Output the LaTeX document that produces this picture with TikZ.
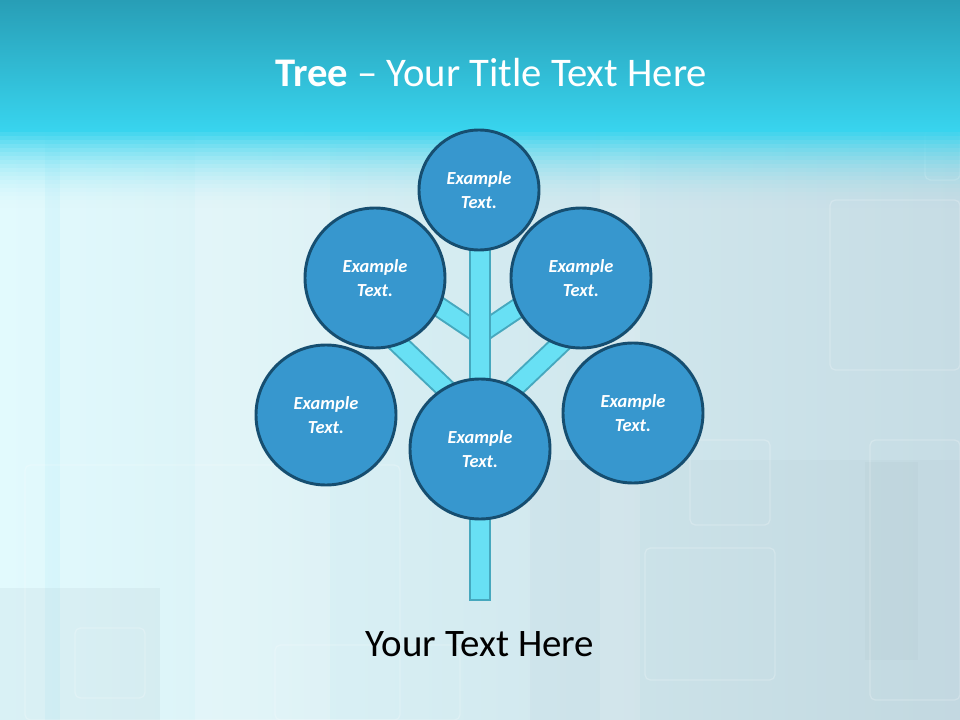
\documentclass[tikz,border=0pt]{standalone}
\usepackage{fontspec}
\setmainfont{Carlito}

\definecolor{bandtop}{RGB}{40,158,182}
\definecolor{bandbot}{RGB}{56,212,238}
\definecolor{paleleft}{RGB}{226,250,253}
\definecolor{paleright}{RGB}{198,220,228}
\definecolor{haze}{RGB}{160,180,190}
\definecolor{ballfill}{RGB}{55,151,206}
\definecolor{balledge}{RGB}{22,78,112}
\definecolor{limbfill}{RGB}{104,224,244}
\definecolor{limbedge}{RGB}{70,168,190}

\pgfdeclarelayer{back}
\pgfdeclarelayer{limbs}
\pgfsetlayers{back,limbs,main}

\tikzset{every picture/.style={line width=0.75pt}}

\begin{document}
\begin{tikzpicture}[x=0.75pt,y=0.75pt,yscale=-1,xscale=1,
  ball/.style={circle, draw=balledge, fill=ballfill, line width=2.2pt, minimum size=105pt, inner sep=0pt,
    text=white, align=center, font=\fontsize{13.8}{17.5}\selectfont\bfseries\itshape},
  topball/.style={ball, minimum size=90pt},
  limb/.style={draw=limbedge, line width=1.5pt, double=limbfill, double distance=12.75pt},
  ghost/.style={draw=white, draw opacity=0.22, line width=1pt, rounded corners=4pt}]
\useasboundingbox (0,0) rectangle (960,720);

\begin{pgfonlayer}{back}
%Background
\fill [left color=paleleft, right color=paleright] (0,128) rectangle (960,720);
%Streaks
\fill [white, opacity=0.18] (195,128) rectangle (330,720);
\fill [bandbot, opacity=0.06] (45,128) rectangle (60,720);
\fill [white, opacity=0.15] (600,128) rectangle (640,720);
%Ghost boxes
\fill [haze, opacity=0.12] (0,588) rectangle (160,720);
\fill [haze, opacity=0.08] (530,460) rectangle (960,720);
\fill [haze, opacity=0.1] (865,462) rectangle (918,660);
\draw [ghost] (25,465) rectangle (400,720);
\draw [ghost] (830,200) rectangle (960,370);
\draw [ghost] (925,130) rectangle (960,180);
\draw [ghost] (690,440) rectangle (770,525);
\draw [ghost] (645,548) rectangle (775,680);
\draw [ghost] (75,628) rectangle (145,698);
\draw [ghost] (275,645) rectangle (460,720);
\draw [ghost] (870,440) rectangle (960,700);
%Band
\foreach \i in {0,...,19}
  \fill [bandbot, opacity={(1-\i/20)*(1-\i/20)}] (0,128+4*\i) rectangle (960,132+4*\i);
\fill [top color=bandtop, bottom color=bandbot] (0,0) rectangle (960,130);
\end{pgfonlayer}

%Circles
\node [topball] (crown) at (479,190) {Example\\Text.};
\node [ball] (upleft) at (375,278) {Example\\Text.};
\node [ball] (upright) at (581,278) {Example\\Text.};
\node [ball] (lowleft) at (326,415) {Example\\Text.};
\node [ball] (lowright) at (633,413) {Example\\Text.};
\node [ball] (hub) at (480,449) {Example\\Text.};

%Trunk and branches
\coordinate (forkhi) at (479.5,334);
\coordinate (forklo) at (479.5,421);
\coordinate (twighl) at (420,294);
\coordinate (twighr) at (539,294);
\coordinate (twigll) at (385,331);
\coordinate (twiglr) at (574,331);
\begin{pgfonlayer}{limbs}
\draw [limb] (forkhi) -- (twighl);
\draw [limb] (forkhi) -- (twighr);
\draw [limb] (forklo) -- (twigll);
\draw [limb] (forklo) -- (twiglr);
\draw [draw=limbedge, fill=limbfill, line width=1.5pt] (469.5,240) rectangle (490,600);
\end{pgfonlayer}

% Text Node
\node [anchor=base, text=white, font=\fontsize{30.5}{36}\selectfont] (title) at (491,87) {\textbf{Tree} -- Your Title Text Here};
% Text Node
\node [anchor=base, text=black, font=\fontsize{29.2}{34}\selectfont] (caption) at (480,656) {Your Text Here};
\end{tikzpicture}
\end{document}
